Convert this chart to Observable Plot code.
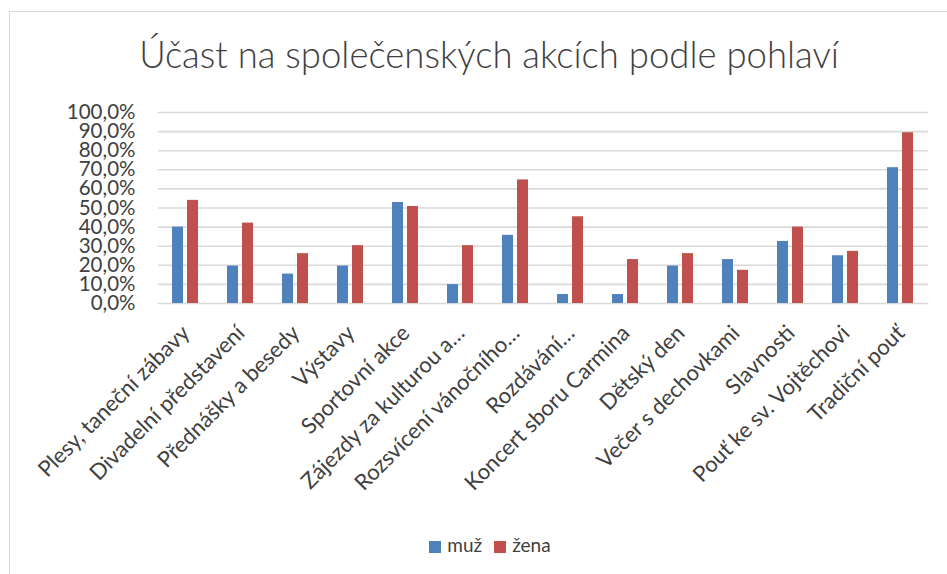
<!DOCTYPE html>
<html>
<head>
<meta charset="utf-8">
<script src="https://cdn.jsdelivr.net/npm/d3@7"></script>
<script src="https://cdn.jsdelivr.net/npm/@observablehq/plot@0.6"></script>
<style>
  body { margin: 0; background: #fff; }
  #wrap { position: relative; width: 947px; height: 574px; overflow: hidden; font-family: Lato, "Open Sans", sans-serif; }
  #frame { position: absolute; left: 9px; top: 11px; width: 1200px; height: 1200px; border: 1.5px solid #d9d9d9; box-sizing: border-box; }
  #title { position: absolute; left: 0; top: 32px; width: 978px; text-align: center; font-size: 36.5px; font-weight: 300; color: #404040; }
  #chart { position: absolute; left: 0; top: 90px; }
  #legend { position: absolute; left: 0; top: 533px; width: 980px; text-align: center; font-size: 19px; color: #404040; }
  .sw { display: inline-block; width: 12px; height: 12px; margin-right: 6px; vertical-align: -1px; }
  .item { margin: 0 6px; }
</style>
</head>
<body>
<div id="wrap">
  <div id="frame"></div>
  <div id="title">Účast na společenských akcích podle pohlaví</div>
  <div id="chart"></div>
  <div id="legend"></div>
</div>
<script>
const categories = [
  "Plesy, taneční zábavy",
  "Divadelní představení",
  "Přednášky a besedy",
  "Výstavy",
  "Sportovní akce",
  "Zájezdy za kulturou a…",
  "Rozsvícení vánočního…",
  "Rozdávání…",
  "Koncert sboru Carmina",
  "Dětský den",
  "Večer s dechovkami",
  "Slavnosti",
  "Pouť ke sv. Vojtěchovi",
  "Tradiční pouť"
];
const series = ["muž", "žena"];
const muz  = [40.0, 19.6, 15.4, 19.6, 52.9, 9.9, 35.7, 4.7, 4.7, 19.6, 23.0, 32.5, 25.0, 71.1];
const zena = [54.0, 42.1, 26.1, 30.3, 50.8, 30.3, 64.7, 45.4, 23.0, 26.1, 17.4, 40.0, 27.3, 89.4];
const colors = ["#4F81BD", "#C0504D"];
const yTicks = [0, 10, 20, 30, 40, 50, 60, 70, 80, 90, 100];

const data = categories.flatMap((c, i) => [
  {cat: c, s: series[0], v: muz[i]},
  {cat: c, s: series[1], v: zena[i]}
]);

const fmt = d => d.toFixed(1).replace(".", ",") + "%";

const chart = Plot.plot({
  width: 947,
  height: 440,
  marginLeft: 153,
  marginRight: 14,
  marginTop: 22,
  marginBottom: 227,
  style: {fontFamily: "Lato, 'Open Sans', sans-serif", color: "#404040", background: "transparent"},
  fx: {domain: categories, padding: 0, label: null},
  x: {domain: series, paddingInner: 0.25, paddingOuter: 0.87, axis: null},
  y: {domain: [0, 100], label: null},
  color: {domain: series, range: colors},
  marks: [
    Plot.gridY(yTicks, {stroke: "#d9d9d9", strokeOpacity: 1, strokeWidth: 1.6}),
    Plot.barY(data, {fx: "cat", x: "s", y: "v", fill: "s"}),
    Plot.axisY(yTicks, {tickSize: 0, tickPadding: 23, tickFormat: fmt, fontSize: 20.5, label: null}),
    Plot.axisFx({anchor: "bottom", tickRotate: -45, tickSize: 0, tickPadding: 24, dy: 2, fontSize: 22, label: null})
  ]
});
document.getElementById("chart").appendChild(chart);

const legend = document.getElementById("legend");
series.forEach((s, i) => {
  const span = document.createElement("span");
  span.className = "item";
  span.innerHTML = `<span class="sw" style="background:${colors[i]}"></span>${s}`;
  legend.appendChild(span);
});
</script>
</body>
</html>
